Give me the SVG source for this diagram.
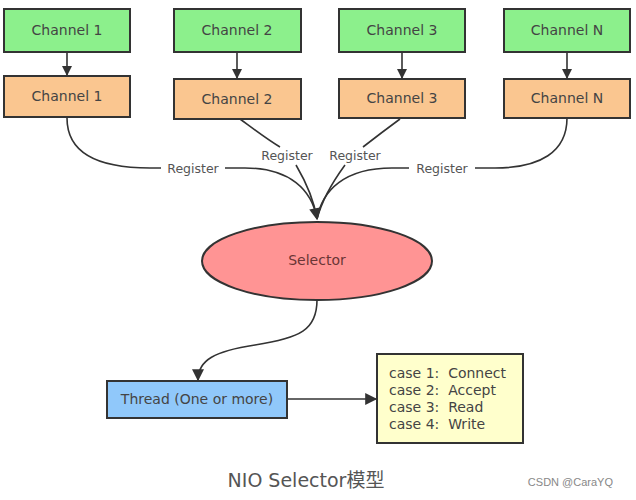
<svg xmlns="http://www.w3.org/2000/svg" width="636" height="500" viewBox="0 0 636 500">
<defs>
<marker id="ah" viewBox="0 0 10 10" refX="9" refY="5" markerWidth="11" markerHeight="10" markerUnits="userSpaceOnUse" orient="auto">
<path d="M0,0 L10,5 L0,10 z" fill="#333"/>
</marker>
<marker id="ahb" viewBox="0 0 10 10" refX="9" refY="5" markerWidth="15" markerHeight="12" markerUnits="userSpaceOnUse" orient="auto">
<path d="M0,0 L10,5 L0,10 z" fill="#333"/>
</marker>
<style>
.box{stroke:#333;stroke-width:2}
.g{fill:#8CF08C}
.o{fill:#FAC690}
.t{font-family:"DejaVu Sans","Liberation Sans",sans-serif;font-size:14px;fill:#444;text-anchor:middle;dominant-baseline:central}
.reg{font-family:"DejaVu Sans","Liberation Sans",sans-serif;font-size:12.5px;fill:#555;text-anchor:middle;dominant-baseline:central}
.c{fill:none;stroke:#333;stroke-width:1.6}
.case{font-family:"DejaVu Sans","Liberation Sans",sans-serif;font-size:14px;fill:#444;white-space:pre}
</style>
</defs>
<rect width="636" height="500" fill="#fff"/>
<g id="connectors">
<line class="c" x1="67" y1="52" x2="67" y2="75" marker-end="url(#ah)"/>
<line class="c" x1="237" y1="52" x2="237" y2="78" marker-end="url(#ah)"/>
<line class="c" x1="402" y1="52" x2="402" y2="78" marker-end="url(#ah)"/>
<line class="c" x1="567" y1="52" x2="567" y2="78" marker-end="url(#ah)"/>
<path class="c" d="M67,118 C67,152 95,168 150,168 L161,168"/>
<path class="c" d="M225,168 L245,168 C290,168 312,190 317,219" marker-end="url(#ahb)"/>
<path class="c" d="M240,119 C255,130 268,140 280,147"/>
<path class="c" d="M296,165 C306,182 314,200 317,219"/>
<path class="c" d="M400,119 C385,130 372,140 363,147"/>
<path class="c" d="M345,165 C334,180 322,200 317,219"/>
<path class="c" d="M567,118 C567,152 540,168 495,168 L475,168"/>
<path class="c" d="M409,168 L392,168 C345,168 322,190 317,219"/>
<path class="c" d="M317,300 C317,330 300,338 255,345 C215,351 198,360 198,380" marker-end="url(#ahb)"/>
<line class="c" x1="287" y1="399" x2="376" y2="399" marker-end="url(#ahb)"/>
<text class="reg" x="193" y="168">Register</text>
<text class="reg" x="287" y="155">Register</text>
<text class="reg" x="355" y="155">Register</text>
<text class="reg" x="442" y="168">Register</text>
</g>
<g id="ch1a"><rect class="box g" x="4" y="9" width="126" height="43"/><text class="t" x="67" y="30">Channel 1</text></g>
<g id="ch2a"><rect class="box g" x="174" y="9" width="127" height="43"/><text class="t" x="237" y="30">Channel 2</text></g>
<g id="ch3a"><rect class="box g" x="339" y="9" width="126" height="43"/><text class="t" x="402" y="30">Channel 3</text></g>
<g id="chNa"><rect class="box g" x="504" y="9" width="126" height="43"/><text class="t" x="567" y="30">Channel N</text></g>
<g id="ch1b"><rect class="box o" x="4" y="76" width="126" height="41"/><text class="t" x="67" y="96">Channel 1</text></g>
<g id="ch2b"><rect class="box o" x="174" y="79" width="127" height="40"/><text class="t" x="237" y="99">Channel 2</text></g>
<g id="ch3b"><rect class="box o" x="339" y="79" width="126" height="39"/><text class="t" x="402" y="98">Channel 3</text></g>
<g id="chNb"><rect class="box o" x="504" y="79" width="126" height="39"/><text class="t" x="567" y="98">Channel N</text></g>
<g id="selector"><ellipse cx="317" cy="261" rx="115" ry="39" fill="#FF9494" stroke="#333" stroke-width="2"/><text class="t" x="317" y="260" style="fill:#6a3535">Selector</text></g>
<g id="thread"><rect class="box" x="107" y="381" width="180" height="37" fill="#90C8FA"/><text class="t" x="197" y="399">Thread (One or more)</text></g>
<g id="cases"><rect class="box" x="377" y="354" width="146" height="89" fill="#FFFFCC"/>
<text class="case" x="389" y="378" xml:space="preserve">case 1:  Connect</text>
<text class="case" x="389" y="395" xml:space="preserve">case 2:  Accept</text>
<text class="case" x="389" y="412" xml:space="preserve">case 3:  Read</text>
<text class="case" x="389" y="429" xml:space="preserve">case 4:  Write</text>
</g>
<text x="306" y="487" text-anchor="middle" font-family="'DejaVu Sans','Noto Sans CJK SC',sans-serif" font-size="19" fill="#555">NIO Selector模型</text>
<text x="613" y="486" text-anchor="end" font-family="'Liberation Sans',sans-serif" font-size="11" fill="#888">CSDN @CaraYQ</text>
</svg>
